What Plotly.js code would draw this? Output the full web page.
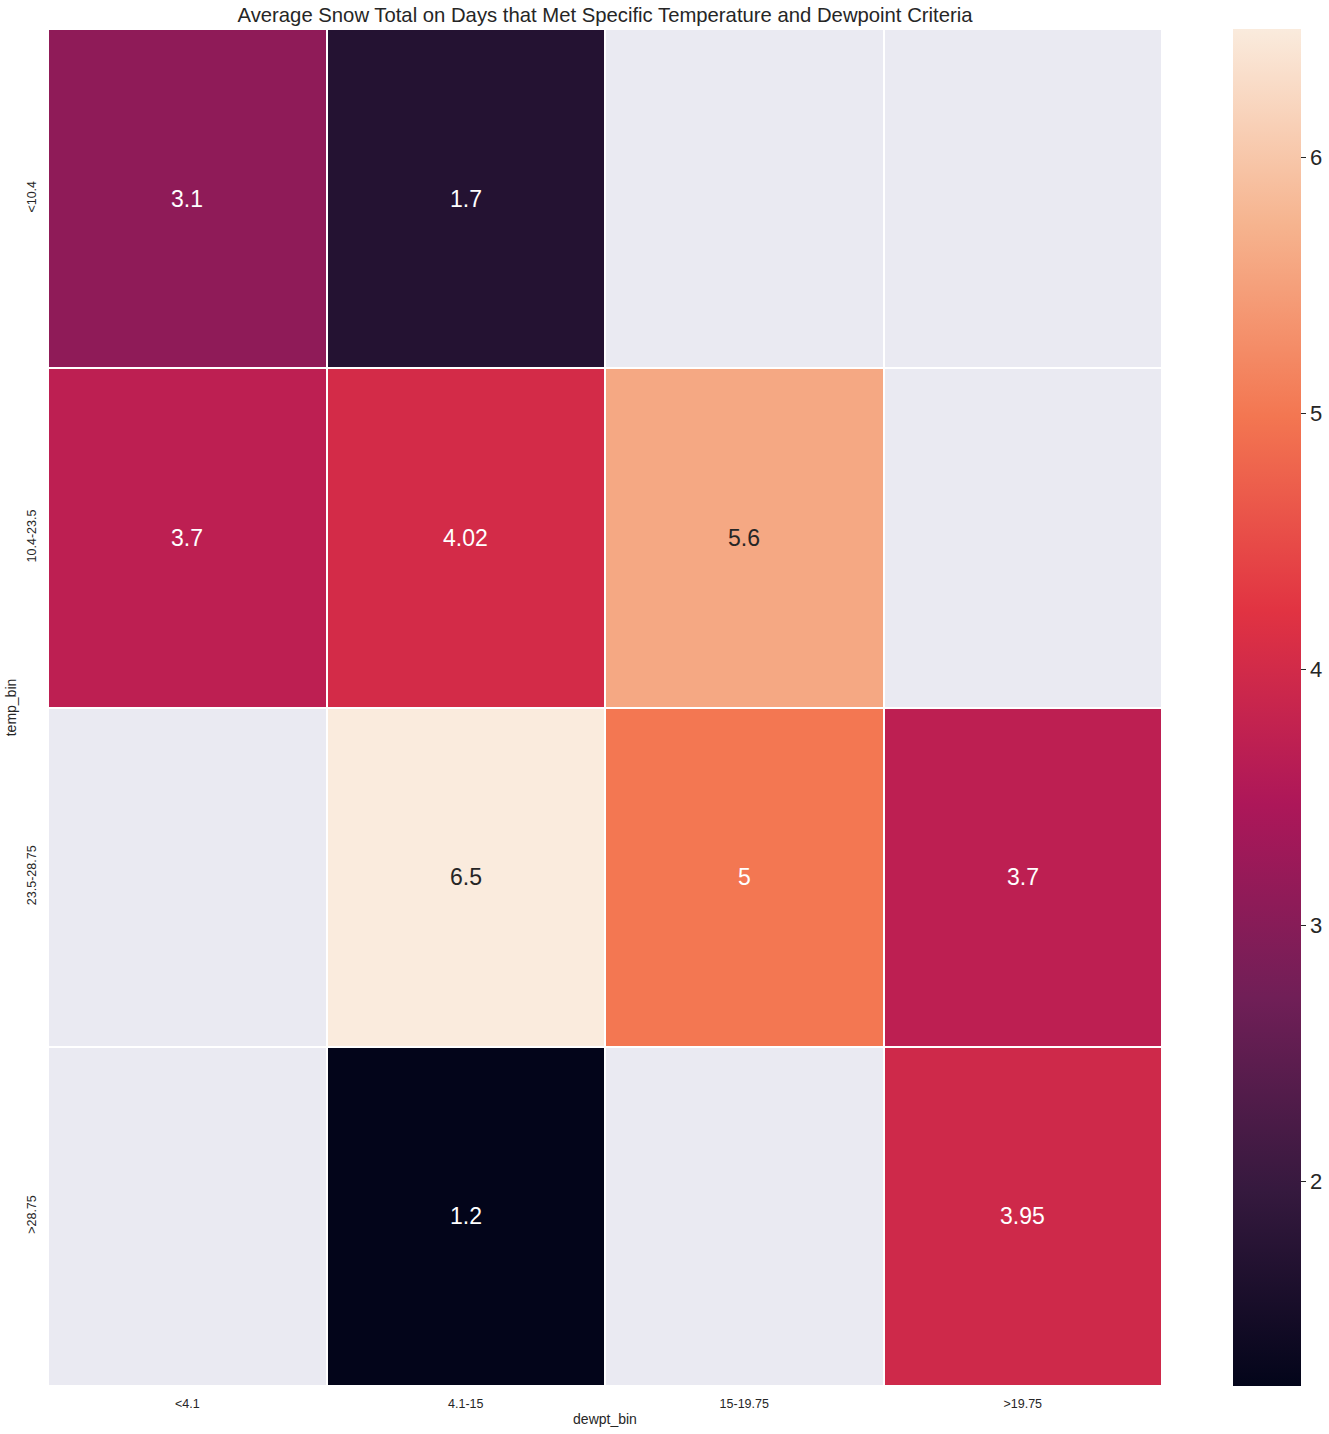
<!DOCTYPE html>
<html>
<head>
<meta charset="utf-8">
<script src="https://cdn.plot.ly/plotly-3.0.1.min.js"></script>
<style>html,body{margin:0;padding:0;background:#fff;}#chart{width:1329px;height:1434px;}</style>
</head>
<body>
<div id="chart"></div>
<script>
// Data
const dewptBins = ["<4.1", "4.1-15", "15-19.75", ">19.75"];
const tempBins = ["<10.4", "10.4-23.5", "23.5-28.75", ">28.75"];
const snowAvg = [
  [3.1, 1.7, null, null],
  [3.7, 4.02, 5.6, null],
  [null, 6.5, 5.0, 3.7],
  [null, 1.2, null, 3.95]
];
const snowLabels = [
  ["3.1", "1.7", "", ""],
  ["3.7", "4.02", "5.6", ""],
  ["", "6.5", "5", "3.7"],
  ["", "1.2", "", "3.95"]
];
const colorTicks = [2, 3, 4, 5, 6];

const rocket = [
  [0.0, "#03051a"],
  [0.143, "#35193e"],
  [0.286, "#701f57"],
  [0.429, "#ad1759"],
  [0.571, "#e13342"],
  [0.714, "#f37651"],
  [0.857, "#f6b48f"],
  [1.0, "#faebdd"]
];

const flat = snowAvg.flat().filter(v => v !== null);
const zmin = Math.min(...flat), zmax = Math.max(...flat);
const missing = snowAvg.map(r => r.map(v => v === null ? 1 : null));

function hexToRgb(h){ return [1,3,5].map(k => parseInt(h.substr(k,2),16)); }
function lum(hex){
  const c = hexToRgb(hex).map(v => v/255).map(v => v <= 0.03928 ? v/12.92 : Math.pow((v+0.055)/1.055, 2.4));
  return 0.2126*c[0] + 0.7152*c[1] + 0.0722*c[2];
}
function colorAt(t){
  for (let i = 1; i < rocket.length; i++) {
    if (t <= rocket[i][0]) {
      const a = rocket[i-1], b = rocket[i];
      const f = (t - a[0]) / (b[0] - a[0]);
      const ca = hexToRgb(a[1]), cb = hexToRgb(b[1]);
      return "#" + ca.map((v,k) => Math.round(v + (cb[k]-v)*f).toString(16).padStart(2,"0")).join("");
    }
  }
  return rocket[rocket.length-1][1];
}

const FONT = "Liberation Sans, Arial, sans-serif";
const annotations = [];
snowAvg.forEach((row, i) => row.forEach((v, j) => {
  if (v === null) return;
  const c = colorAt((v - zmin) / (zmax - zmin));
  const dark = lum(c) > 0.408;
  annotations.push({
    x: dewptBins[j], y: tempBins[i], xref: "x", yref: "y",
    text: snowLabels[i][j], showarrow: false,
    font: {size: 23, color: dark ? "#262626" : "#ffffff", family: FONT}
  });
}));

const traces = [
  {
    type: "heatmap", x: dewptBins, y: tempBins, z: missing,
    colorscale: [[0, "#eaeaf2"], [1, "#eaeaf2"]], showscale: false,
    xgap: 2, ygap: 2, hoverinfo: "skip"
  },
  {
    type: "heatmap", x: dewptBins, y: tempBins, z: snowAvg,
    zmin: zmin, zmax: zmax, colorscale: rocket,
    xgap: 2, ygap: 2,
    colorbar: {
      x: 1.0638, xanchor: "left", xpad: 0, ypad: 0,
      y: 0.5, yanchor: "middle", len: 1, lenmode: "fraction",
      thickness: 68, outlinewidth: 0,
      tickvals: colorTicks, ticktext: colorTicks.map(String),
      ticks: "outside", ticklen: 5, tickwidth: 1, tickcolor: "#262626",
      tickfont: {size: 22, color: "#262626", family: FONT}
    }
  }
];

const layout = {
  width: 1329, height: 1434,
  margin: {l: 48, r: 167, t: 29, b: 48, autoexpand: false},
  paper_bgcolor: "#ffffff", plot_bgcolor: "#ffffff",
  font: {family: FONT, color: "#262626"},
  title: {
    text: "Average Snow Total on Days that Met Specific Temperature and Dewpoint Criteria",
    font: {size: 20.3, color: "#262626"},
    x: (48 + 1162) / 2 / 1329, xanchor: "center", y: 1 - 15 / 1434, yanchor: "middle"
  },
  xaxis: {
    type: "category", showgrid: false, zeroline: false, ticks: "",
    ticklabelstandoff: 8,
    tickfont: {size: 12.5, color: "#262626"},
    title: {text: "dewpt_bin", font: {size: 14, color: "#262626"}, standoff: 4},
    automargin: false
  },
  yaxis: {
    type: "category", autorange: "reversed", showgrid: false, zeroline: false, ticks: "",
    ticklabelstandoff: 9,
    tickangle: -90, tickfont: {size: 12.5, color: "#262626"},
    title: {text: "temp_bin", font: {size: 14, color: "#262626"}, standoff: 4},
    automargin: false
  },
  annotations: annotations
};

Plotly.newPlot("chart", traces, layout, {displayModeBar: false, staticPlot: true});
</script>
</body>
</html>
